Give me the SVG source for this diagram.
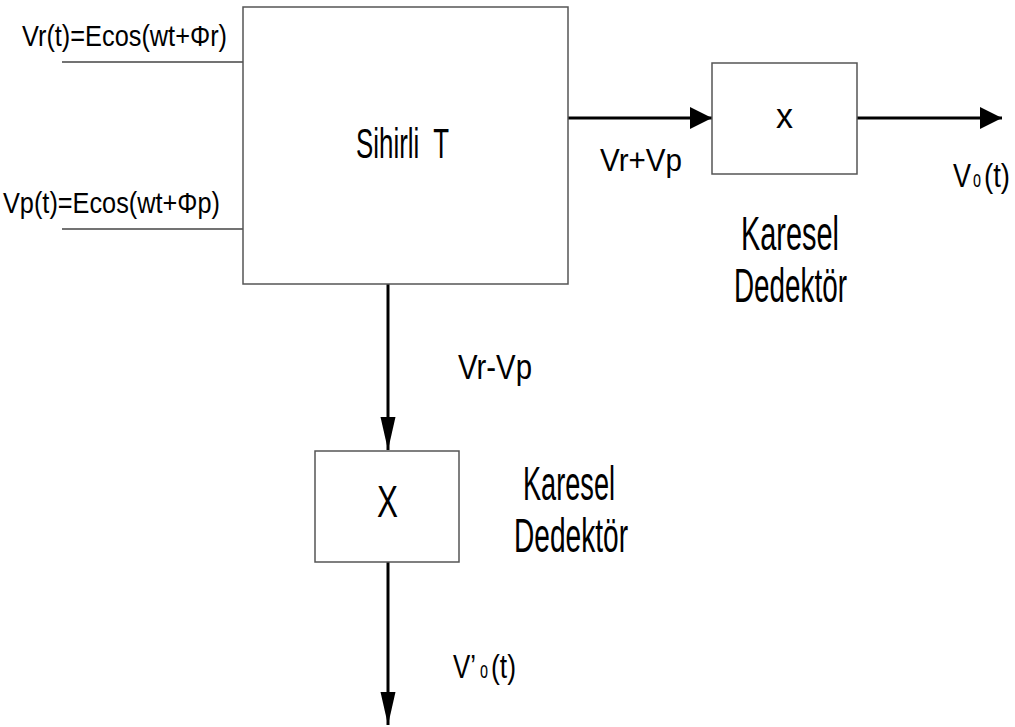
<svg xmlns="http://www.w3.org/2000/svg" width="1015" height="727" viewBox="0 0 1015 727">
<style>
.box{fill:#fff;stroke:#555;stroke-width:1.5}
.thin{stroke:#444;stroke-width:1.5;fill:none}
.wire{stroke:#000;stroke-width:3;fill:none}
.t{font-family:"Liberation Sans",Arial,sans-serif;fill:#000}
</style>
<defs>
<marker id="ah" markerUnits="userSpaceOnUse" markerWidth="24" markerHeight="24" refX="22" refY="11" orient="auto">
<path d="M0,0 L22,11 L0,22 Z" fill="#000"/>
</marker>
<marker id="av" markerUnits="userSpaceOnUse" markerWidth="34" markerHeight="16" refX="33" refY="7.5" orient="auto">
<path d="M0,0 L33,7.5 L0,15 Z" fill="#000"/>
</marker>
</defs>
<rect width="1015" height="727" fill="#fff"/>
<g id="connectors">
<line class="thin" x1="62" y1="62" x2="243" y2="62"/>
<line class="thin" x1="62" y1="229" x2="243" y2="229"/>
<line class="wire" x1="568" y1="118" x2="712" y2="118" marker-end="url(#ah)"/>
<line class="wire" x1="857" y1="118" x2="1002" y2="118" marker-end="url(#ah)"/>
<line class="wire" x1="388" y1="284" x2="388" y2="450" marker-end="url(#av)"/>
<line class="wire" x1="388" y1="562" x2="388" y2="725" marker-end="url(#av)"/>
</g>
<g id="magic-tee">
<rect class="box" x="243" y="7" width="325" height="277"/>
<text class="t" x="356" y="158" font-size="43" textLength="93" lengthAdjust="spacingAndGlyphs" xml:space="preserve">Sihirli  T</text>
</g>
<g id="square-detector-1">
<rect class="box" x="712" y="63" width="145" height="111"/>
<text class="t" x="776" y="128" font-size="35" textLength="17" lengthAdjust="spacingAndGlyphs">x</text>
</g>
<g id="square-detector-2">
<rect class="box" x="315" y="451" width="144" height="111"/>
<text class="t" x="377" y="517" font-size="44" textLength="21" lengthAdjust="spacingAndGlyphs">X</text>
</g>
<g id="labels">
<text class="t" x="22" y="46" font-size="29" textLength="205" lengthAdjust="spacingAndGlyphs">Vr(t)=Ecos(wt+Φr)</text>
<text class="t" x="3" y="213" font-size="29" textLength="217" lengthAdjust="spacingAndGlyphs">Vp(t)=Ecos(wt+Φp)</text>
<text class="t" x="600" y="171" font-size="32" textLength="82" lengthAdjust="spacingAndGlyphs">Vr+Vp</text>
<text class="t" x="458" y="379" font-size="35" textLength="74" lengthAdjust="spacingAndGlyphs">Vr-Vp</text>
<text class="t" x="953" y="187" font-size="33" textLength="18" lengthAdjust="spacingAndGlyphs">V</text>
<text class="t" x="973" y="187" font-size="23" textLength="8" lengthAdjust="spacingAndGlyphs">o</text>
<text class="t" x="984" y="187" font-size="33" textLength="26" lengthAdjust="spacingAndGlyphs">(t)</text>
<text class="t" x="453" y="678" font-size="33" textLength="23" lengthAdjust="spacingAndGlyphs">V’</text>
<text class="t" x="480" y="678" font-size="23" textLength="8" lengthAdjust="spacingAndGlyphs">o</text>
<text class="t" x="491" y="678" font-size="33" textLength="25" lengthAdjust="spacingAndGlyphs">(t)</text>
<text class="t" x="741" y="250" font-size="49" textLength="98" lengthAdjust="spacingAndGlyphs">Karesel</text>
<text class="t" x="734" y="302" font-size="48" textLength="113" lengthAdjust="spacingAndGlyphs">Dedektör</text>
<text class="t" x="523" y="500" font-size="49" textLength="92" lengthAdjust="spacingAndGlyphs">Karesel</text>
<text class="t" x="514" y="552" font-size="48" textLength="114" lengthAdjust="spacingAndGlyphs">Dedektör</text>
</g>
</svg>
